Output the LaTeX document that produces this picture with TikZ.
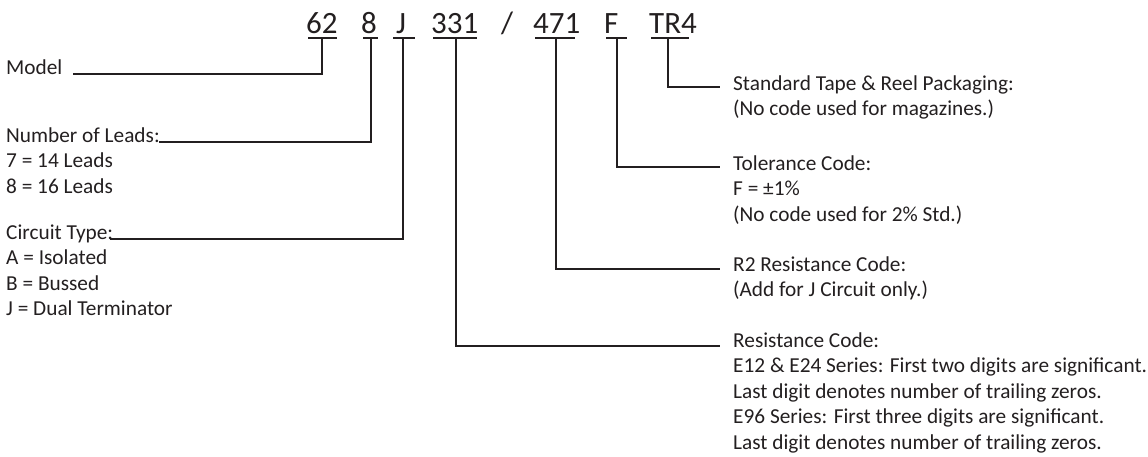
\documentclass[tikz,border=0pt]{standalone}
\usepackage{fontspec}
\setmainfont{Carlito}
\definecolor{ink}{HTML}{231F20}
\newcommand{\textlines}[1]{\begin{tabular}[t]{@{}l@{}}#1\end{tabular}}
\tikzset{
  lead/.style={line width=2pt, draw=ink},
  code/.style={inner sep=0pt, anchor=base west, text=ink, font=\fontsize{31}{31}\selectfont},
  head/.style={inner sep=0pt, anchor=base west, text=ink, font=\fontsize{21.3}{25.5}\selectfont},
  rhead/.style={head, inner xsep=13pt},
}

\begin{document}
\begin{tikzpicture}[x=1pt, y=-1pt]
  \useasboundingbox (0,0) rectangle (1148,456);

  %% ---- part number ----
  \node[code] (p62) at (306,33) {62};
  \node[code] (p8) at (361,33) {8};
  \node[code] (pJ) at (396,33) {J};
  \node[code] (p331) at (431,33) {331};
  \node[code] (pslash) at (501,33) {/};
  \node[code] (p471) at (533,33) {471};
  \node[code] (pF) at (604,33) {F};
  \node[code] (pTR) at (649,33) {TR4};

  %% underlines
  \draw[lead] (308,38) -- (337,38);
  \draw[lead] (363,38) -- (378,38);
  \draw[lead] (393,38) -- (415,38);
  \draw[lead] (433,38) -- (477,38);
  \draw[lead] (535,38) -- (575,38);
  \draw[lead] (606,38) -- (627,38);
  \draw[lead] (651,38) -- (689,38);

  \coordinate (m62) at (322,38);
  \coordinate (m8) at (371,38);
  \coordinate (mJ) at (403,38);
  \coordinate (m331) at (456,38);
  \coordinate (m471) at (556,38);
  \coordinate (mF) at (617,38);
  \coordinate (mTR) at (668,38);

  %% ---- left labels ----
  \node[head] (model) at (6,74) {Model};

  \node[head] (leads) at (6,142) {Number of Leads:};
  \node[head] (leadsval) at ([yshift=-25.5pt]leads.base west)
    {\textlines{7 = 14 Leads\\8 = 16 Leads}};

  \node[head] (circuit) at (6,239) {Circuit Type:};
  \node[head] (circuitval) at ([yshift=-25.5pt]circuit.base west)
    {\textlines{A = Isolated\\B = Bussed\\J = Dual Terminator}};

  %% ---- right labels ----
  \node[rhead] (tape) at (720,90)
    {\textlines{Standard Tape \& Reel Packaging:\\(No code used for magazines.)}};
  \node[rhead] (tol) at (720,170)
    {\textlines{Tolerance Code:\\F = ±1\%\\(No code used for 2\% Std.)}};
  \node[rhead] (rtwo) at (720,271)
    {\textlines{R2 Resistance Code:\\(Add for J Circuit only.)}};
  \node[rhead] (res) at (720,347)
    {\textlines{Resistance Code:\\E12 \& E24 Series: First two digits are significant.\\
     Last digit denotes number of trailing zeros.\\
     E96 Series: First three digits are significant.\\
     Last digit denotes number of trailing zeros.}};

  %% leaders
  \draw[lead] (m62) |- ([xshift=10pt]model.base east);
  \draw[lead] (m8) |- ([xshift=-1pt]leads.base east);
  \draw[lead] (mJ) |- ([xshift=-3pt]circuit.base east);
  \draw[lead] (mTR) |- ([yshift=3pt]tape.base west);
  \draw[lead] (mF) |- ([yshift=3pt]tol.base west);
  \draw[lead] (m471) |- ([yshift=2pt]rtwo.base west);
  \draw[lead] (m331) |- ([yshift=1pt]res.base west);

\end{tikzpicture}
\end{document}
